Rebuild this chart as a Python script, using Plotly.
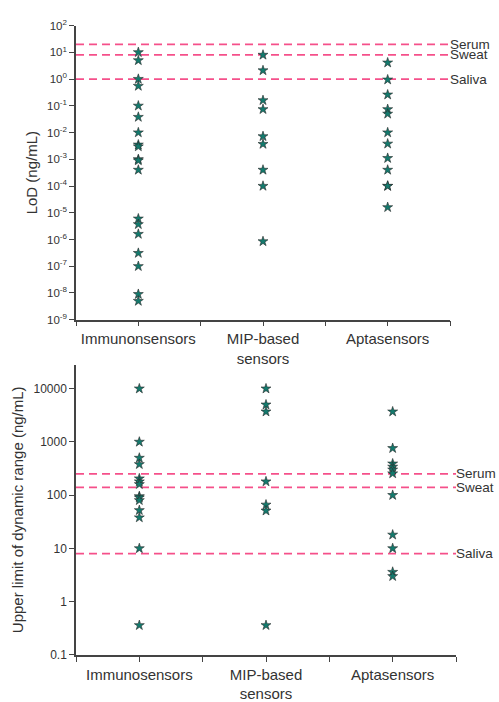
import math
import plotly.graph_objects as go

# ---------------- data ----------------
cats_top = ["Immunonsensors", "MIP-based<br>sensors", "Aptasensors"]
cats_bottom = ["Immunosensors", "MIP-based<br>sensors", "Aptasensors"]

lod_immuno = [10, 5, 1, 0.55, 0.1, 0.038, 0.01, 0.0035, 0.003, 0.001, 0.0009,
              0.0004, 6e-6, 3.7e-6, 1.6e-6, 3.1e-7, 1e-7, 9e-9, 5e-9]
lod_mip = [8, 2.1, 0.16, 0.074, 0.0072, 0.0037, 0.0004, 1e-4, 8.5e-7]
lod_apta = [4.1, 0.95, 0.26, 0.074, 0.05, 0.01, 0.0038, 0.0011, 0.0004,
            1e-4, 1e-4, 1.6e-5]

ul_immuno = [10000, 1000, 500, 380, 205, 180, 160, 95, 90, 80, 52, 38, 10, 0.36]
ul_mip = [10000, 5000, 3700, 180, 66, 51, 0.36]
ul_apta = [3700, 760, 390, 340, 300, 255, 100, 18, 10, 3.6, 3.0]

fluid_names = ["Serum", "Sweat", "Saliva"]
fluid_lod = [20, 8, 1]
fluid_ul = [250, 140, 8]

top_tickvals = [1e-9, 1e-8, 1e-7, 1e-6, 1e-5, 1e-4, 1e-3, 1e-2, 1e-1, 1, 10, 100]
top_ticktext = ["10<sup>-9</sup>", "10<sup>-8</sup>", "10<sup>-7</sup>", "10<sup>-6</sup>",
                "10<sup>-5</sup>", "10<sup>-4</sup>", "10<sup>-3</sup>", "10<sup>-2</sup>",
                "10<sup>-1</sup>", "10<sup>0</sup>", "10<sup>1</sup>", "10<sup>2</sup>"]
bot_tickvals = [0.1, 1, 10, 100, 1000, 10000]
bot_ticktext = ["0.1", "1", "10", "100", "1000", "10000"]

# ---------------- style ----------------
FONT = "Arial, Liberation Sans, sans-serif"
TXT = "#333333"
AXC = "#444444"
STAR = "#137a6d"
LINEC = "#f5508a"

fig = go.Figure()

def add_group(vals_list, xa, ya):
    for i, vals in enumerate(vals_list):
        fig.add_trace(go.Scatter(
            x=[i + 1] * len(vals), y=vals, mode="markers",
            xaxis=xa, yaxis=ya, showlegend=False,
            marker=dict(symbol="star", size=7.5, color=STAR,
                        line=dict(color="#2a2a2a", width=0.6)),
        ))

add_group([lod_immuno, lod_mip, lod_apta], "x", "y")
add_group([ul_immuno, ul_mip, ul_apta], "x2", "y2")

shapes = []
annotations = []

def add_fluids(values, xr, yr):
    for name, v in zip(fluid_names, values):
        shapes.append(dict(type="line", xref=xr + " domain", yref=yr, x0=0, x1=1,
                           y0=v, y1=v, layer="below",
                           line=dict(color=LINEC, width=1.8, dash="8px,5px")))
        annotations.append(dict(text=name, xref=xr + " domain", yref=yr, x=1,
                                y=math.log10(v), xanchor="left", yanchor="middle",
                                showarrow=False, xshift=-2,
                                font=dict(family=FONT, size=13.5, color=TXT)))

add_fluids(fluid_lod, "x", "y")
add_fluids(fluid_ul, "x2", "y2")

xt_vals = [0.5, 1, 1.5, 2, 2.5, 3, 3.5]

def xaxis_cfg(domain, cats, anchor):
    return dict(domain=domain, anchor=anchor, range=[0.5, 3.5],
                tickmode="array", tickvals=xt_vals,
                ticktext=["", cats[0], "", cats[1], "", cats[2], ""],
                ticks="outside", ticklen=5, tickwidth=1.3, tickcolor=AXC,
                showline=True, linecolor=AXC, linewidth=1.5, showgrid=False,
                zeroline=False, tickfont=dict(family=FONT, size=15, color=TXT))

def yaxis_cfg(domain, rng, tv, tt, title, anchor, fs):
    return dict(domain=domain, anchor=anchor, type="log", range=rng,
                tickmode="array", tickvals=tv, ticktext=tt,
                ticks="outside", ticklen=5, tickwidth=1.3, tickcolor=AXC,
                showline=True, linecolor=AXC, linewidth=1.5, showgrid=False,
                zeroline=False, tickfont=dict(family=FONT, size=fs, color=TXT),
                title=dict(text=title, font=dict(family=FONT, size=15, color=TXT),
                           standoff=6))

W, H = 499, 702
fig.update_layout(
    width=W, height=H, margin=dict(l=0, r=0, t=0, b=0),
    paper_bgcolor="white", plot_bgcolor="white",
    xaxis=xaxis_cfg([76 / W, 450 / W], cats_top, "y"),
    yaxis=yaxis_cfg([1 - 319 / H, 1 - 18 / H], [-9, 2], top_tickvals, top_ticktext,
                    "LoD (ng/mL)", "x", 11.5),
    xaxis2=xaxis_cfg([76 / W, 456 / W], cats_bottom, "y2"),
    yaxis2=yaxis_cfg([1 - 662 / H, 1 - 365 / H], [-1, 4.45], bot_tickvals, bot_ticktext,
                     "Upper limit of dynamic range (ng/mL)", "x2", 12),
    shapes=shapes, annotations=annotations,
)

fig.write_html(
    "out.html",
    config={"displayModeBar": False},
    post_script="document.body.style.margin='0';document.body.style.padding='0';"
                "document.documentElement.style.overflow='hidden';",
)
